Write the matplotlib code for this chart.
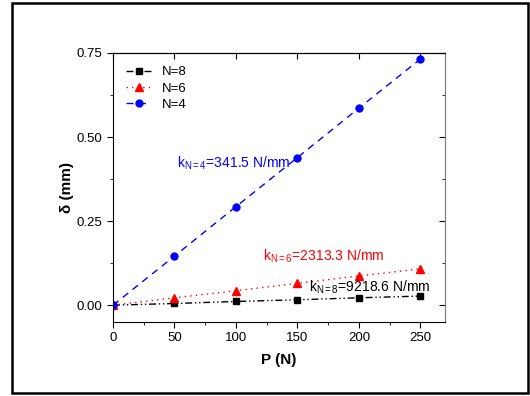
import numpy as np
import matplotlib.pyplot as plt
from matplotlib.ticker import MultipleLocator
from matplotlib.patches import Rectangle

plt.rcParams['font.family'] = 'Liberation Sans'
plt.rcParams['mathtext.fontset'] = 'custom'
plt.rcParams['mathtext.rm'] = 'Liberation Sans'
plt.rcParams['mathtext.it'] = 'Liberation Sans'

P = [0, 50, 100, 150, 200, 250]
d_n8 = [0, 0.005, 0.011, 0.016, 0.022, 0.027]
d_n6 = [0, 0.022, 0.043, 0.065, 0.087, 0.108]
d_n4 = [0, 0.146, 0.293, 0.439, 0.586, 0.732]
labels = ['N=8', 'N=6', 'N=4']
k_text = [r'k$_{\mathrm{N=8}}$=9218.6 N/mm',
          r'k$_{\mathrm{N=6}}$=2313.3 N/mm',
          r'k$_{\mathrm{N=4}}$=341.5 N/mm']

fig = plt.figure(figsize=(5.3, 3.96), dpi=100)
ax = fig.add_axes([0.2132, 0.1869, 0.6264, 0.6793])

ax.plot(P, d_n8, color='black', ls=(0, (5, 2, 1, 2, 1, 2)), lw=1,
        marker='s', ms=5, label=labels[0])
ax.plot(P, d_n6, color='red', ls=(0, (1, 3)), lw=1,
        marker='^', ms=6, label=labels[1])
ax.plot(P, d_n4, color='blue', ls=(0, (5, 4)), lw=1,
        marker='o', ms=5, label=labels[2])

ax.text(159, 0.054, k_text[0], color='black', fontsize=10, va='center')
ax.text(122, 0.146, k_text[1], color='red', fontsize=10, va='center')
ax.text(52, 0.423, k_text[2], color='blue', fontsize=10, va='center')

ax.set_xlim(0, 270)
ax.set_ylim(-0.05, 0.75)
ax.xaxis.set_major_locator(MultipleLocator(50))
ax.xaxis.set_minor_locator(MultipleLocator(25))
ax.yaxis.set_major_locator(MultipleLocator(0.25))
ax.yaxis.set_minor_locator(MultipleLocator(0.125))
ax.yaxis.set_major_formatter(plt.FormatStrFormatter('%.2f'))
ax.tick_params(which='both', direction='out', labelsize=9.5)
ax.tick_params(which='major', length=4)
ax.tick_params(which='minor', length=2.5)

# inward ticks on top and right
sx = ax.secondary_xaxis('top')
sx.xaxis.set_major_locator(MultipleLocator(50))
sx.tick_params(direction='in', length=4, labeltop=False)
sy = ax.secondary_yaxis('right')
sy.yaxis.set_major_locator(MultipleLocator(0.25))
sy.yaxis.set_minor_locator(MultipleLocator(0.125))
sy.tick_params(which='both', direction='in', labelright=False)
sy.tick_params(which='major', length=4)
sy.tick_params(which='minor', length=2.5)
ax.spines['right'].set_color('grey')
sy.spines['right'].set_color('grey')

ax.set_xlabel('P (N)', fontsize=11, fontweight='bold', labelpad=6)
ax.set_ylabel('δ (mm)', fontsize=11, fontweight='bold', labelpad=2)

ax.legend(loc='upper left', frameon=False, fontsize=9.5, handlelength=1.9,
          labelspacing=0.3, borderaxespad=0.8, handletextpad=0.8,
          borderpad=0.2)

fig.patches.append(Rectangle((12 / 530, 3 / 396), 516 / 530, 390 / 396,
                             transform=fig.transFigure, fill=False,
                             edgecolor='black', lw=1.8))

fig.savefig('out.png', dpi=100)
